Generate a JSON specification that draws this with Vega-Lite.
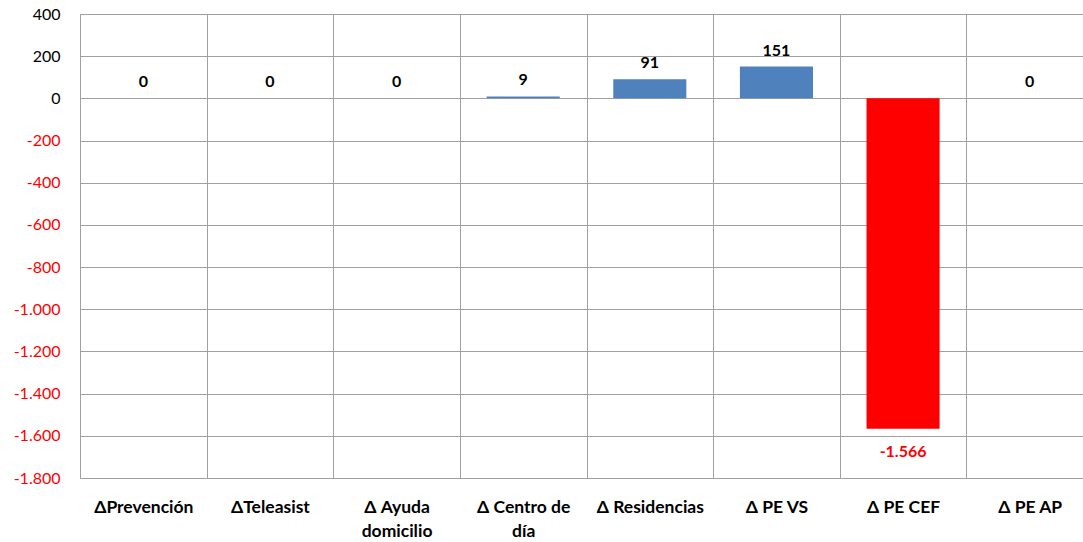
{
  "$schema": "https://vega.github.io/schema/vega-lite/v6.json",
  "width": 1013,
  "height": 464,
  "autosize": {"type": "none"},
  "padding": {"left": 80, "top": 14, "right": 0, "bottom": 64},
  "background": "white",
  "config": {
    "locale": {"number": {"decimal": ",", "thousands": ".", "grouping": [3], "currency": ["", " €"], "minus": "-"}},
    "view": {"stroke": "#a0a0a0", "strokeWidth": 1},
    "font": "Lato"
  },
  "data": {"values": [
    {"cat": "ΔPrevención", "v": 0},
    {"cat": "ΔTeleasist", "v": 0},
    {"cat": "Δ Ayuda domicilio", "v": 0},
    {"cat": "Δ Centro de día", "v": 9},
    {"cat": "Δ Residencias", "v": 91},
    {"cat": "Δ PE VS", "v": 151},
    {"cat": "Δ PE CEF", "v": -1566},
    {"cat": "Δ PE AP", "v": 0}
  ]},
  "encoding": {
    "x": {
      "field": "cat", "type": "nominal", "sort": null,
      "scale": {"paddingInner": 0, "paddingOuter": 0},
      "axis": {
        "title": null, "labelAngle": 0, "ticks": false, "domain": false,
        "grid": true, "gridColor": "#a0a0a0", "gridWidth": 1, "tickBand": "extent",
        "labelFont": "Lato", "labelFontSize": 17.5, "labelFontWeight": "bold", "labelColor": "black",
        "labelPadding": 20, "labelLineHeight": 24, "labelBaseline": "top",
        "labelExpr": "datum.label == 'Δ Ayuda domicilio' ? ['Δ Ayuda', 'domicilio'] : datum.label == 'Δ Centro de día' ? ['Δ Centro de', 'día'] : datum.label"
      }
    }
  },
  "layer": [
    {
      "mark": {"type": "bar", "width": {"band": 0.577}},
      "encoding": {
        "y": {
          "field": "v", "type": "quantitative",
          "scale": {"domain": [-1800, 400], "nice": false},
          "axis": {
            "title": null, "values": [400, 200, 0, -200, -400, -600, -800, -1000, -1200, -1400, -1600, -1800],
            "format": ",d", "ticks": false, "domain": false,
            "grid": true, "gridColor": "#a0a0a0", "gridWidth": 1,
            "labelFont": "Lato", "labelFontSize": 16, "labelPadding": 20,
            "labelColor": {"condition": {"test": "datum.value < 0", "value": "#ff0000"}, "value": "black"}
          }
        },
        "color": {"condition": {"test": "datum.v < 0", "value": "#ff0000"}, "value": "#4f81bd"}
      }
    },
    {
      "mark": {"type": "rule", "color": "#888888", "strokeWidth": 2},
      "encoding": {"y": {"datum": 0, "type": "quantitative"}}
    },
    {
      "transform": [{"filter": "datum.v >= 0"}],
      "mark": {"type": "text", "fontWeight": "bold", "fontSize": 16, "baseline": "alphabetic", "dy": -11, "color": "black", "font": "Lato"},
      "encoding": {
        "y": {"field": "v", "type": "quantitative"},
        "text": {"field": "v", "type": "quantitative", "format": ",d"}
      }
    },
    {
      "transform": [{"filter": "datum.v < 0"}],
      "mark": {"type": "text", "fontWeight": "bold", "fontSize": 16, "baseline": "alphabetic", "dy": 28, "color": "#ff0000", "font": "Lato"},
      "encoding": {
        "y": {"field": "v", "type": "quantitative"},
        "text": {"field": "v", "type": "quantitative", "format": ",d"}
      }
    }
  ]
}
